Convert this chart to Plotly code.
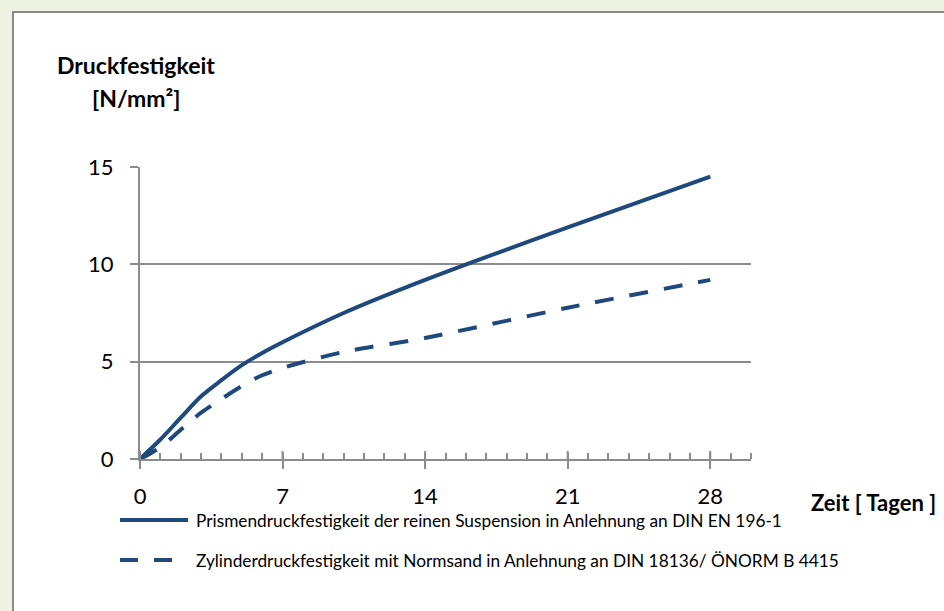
import plotly.graph_objects as go

# ---------------- data ----------------
days = [0, 1, 2, 3, 4, 5, 6, 7, 10, 14, 21, 28]
prisma = [0, 1.0, 2.12, 3.22, 4.05, 4.82, 5.45, 6.0, 7.5, 9.2, 11.9, 14.5]
zylinder = [0, 0.6, 1.5, 2.38, 3.08, 3.75, 4.3, 4.68, 5.5, 6.22, 7.77, 9.2]

x_ticks = [0, 7, 14, 21, 28]
y_ticks = [0, 5, 10, 15]

name_prisma = "Prismendruckfestigkeit der reinen Suspension in Anlehnung an DIN EN 196-1"
name_zyl = "Zylinderdruckfestigkeit mit Normsand in Anlehnung an DIN 18136/ ÖNORM B 4415"
y_title_1 = "Druckfestigkeit"
y_title_2 = "[N/mm²]"
x_title = "Zeit [ Tagen ]"

# ---------------- layout helpers ----------------
W, H = 944, 611
L, R, T, B = 140, 751, 167, 459  # plot area in pixels


def xp(px):
    return (px - L) / (R - L)


def yp(py):
    return (B - py) / (B - T)


BLUE = "#1F497D"
GREY = "#8c8c8c"
FONT = "Lato, 'Open Sans', sans-serif"

fig = go.Figure()
fig.add_trace(go.Scatter(x=days, y=prisma, mode="lines", name=name_prisma,
                         line=dict(color=BLUE, width=4, shape="spline", smoothing=0.8),
                         showlegend=False))
fig.add_trace(go.Scatter(x=days, y=zylinder, mode="lines", name=name_zyl,
                         line=dict(color=BLUE, width=4, shape="spline", smoothing=0.8,
                                   dash="19px,16px"),
                         showlegend=False))

shapes = []
# white chart area with grey border
shapes.append(dict(type="rect", xref="paper", yref="paper", layer="below",
                   x0=xp(13), x1=xp(960), y0=yp(630), y1=yp(12),
                   fillcolor="white", line=dict(color="#8a8a8a", width=2)))
# upper half of major x ticks (crossing ticks)
for v in x_ticks:
    shapes.append(dict(type="line", xref="x", yref="paper", x0=v, x1=v,
                       y0=0, y1=8 / (B - T), line=dict(color=GREY, width=2)))
# legend symbols
shapes.append(dict(type="line", xref="paper", yref="paper",
                   x0=xp(120), x1=xp(188), y0=yp(520), y1=yp(520),
                   line=dict(color=BLUE, width=4)))
shapes.append(dict(type="line", xref="paper", yref="paper",
                   x0=xp(120), x1=xp(174), y0=yp(560), y1=yp(560),
                   line=dict(color=BLUE, width=4, dash="18px,16px")))

annotations = [
    dict(text=f"<b>{y_title_1}</b>", x=xp(136), y=yp(65), xref="paper", yref="paper",
         xanchor="center", yanchor="middle", showarrow=False,
         font=dict(family=FONT, size=23, color="black")),
    dict(text=f"<b>{y_title_2}</b>", x=xp(136), y=yp(98), xref="paper", yref="paper",
         xanchor="center", yanchor="middle", showarrow=False,
         font=dict(family=FONT, size=23, color="black")),
    dict(text=f"<b>{x_title}</b>", x=xp(938), y=yp(502), xref="paper", yref="paper",
         xanchor="right", yanchor="middle", showarrow=False,
         font=dict(family=FONT, size=22, color="black")),
    dict(text=name_prisma, x=xp(194), y=yp(520), xref="paper", yref="paper",
         xanchor="left", yanchor="middle", showarrow=False,
         font=dict(family=FONT, size=17.3, color="black")),
    dict(text=name_zyl, x=xp(194), y=yp(560), xref="paper", yref="paper",
         xanchor="left", yanchor="middle", showarrow=False,
         font=dict(family=FONT, size=17.3, color="black")),
]

fig.update_layout(
    width=W, height=H,
    margin=dict(l=L, r=W - R, t=T, b=H - B, pad=0),
    paper_bgcolor="#eef2e3",
    plot_bgcolor="rgba(0,0,0,0)",
    showlegend=False,
    shapes=shapes,
    annotations=annotations,
    font=dict(family=FONT, size=22, color="black"),
    xaxis=dict(range=[0, 30], tickvals=x_ticks, ticktext=[str(v) for v in x_ticks],
               showline=True, linecolor=GREY, linewidth=2,
               ticks="outside", ticklen=8, tickwidth=2, tickcolor=GREY,
               showgrid=False, zeroline=False, ticklabelstandoff=9,
               minor=dict(dtick=1, tick0=0, ticks="inside", ticklen=6,
                          tickwidth=1.5, tickcolor=GREY, showgrid=False),
               tickfont=dict(family=FONT, size=22, color="black")),
    yaxis=dict(range=[0, 15], tickvals=y_ticks, ticktext=[str(v) for v in y_ticks],
               showline=True, linecolor=GREY, linewidth=2,
               ticks="outside", ticklen=8, tickwidth=2, tickcolor=GREY,
               showgrid=True, gridcolor=GREY, gridwidth=1.5, zeroline=False,
               ticklabelstandoff=12,
               tickfont=dict(family=FONT, size=22, color="black")),
)

fig.write_html("out.html",
               config={"displayModeBar": False},
               post_script="document.body.style.margin='0';"
                           "document.body.style.background='#eef2e3';")
